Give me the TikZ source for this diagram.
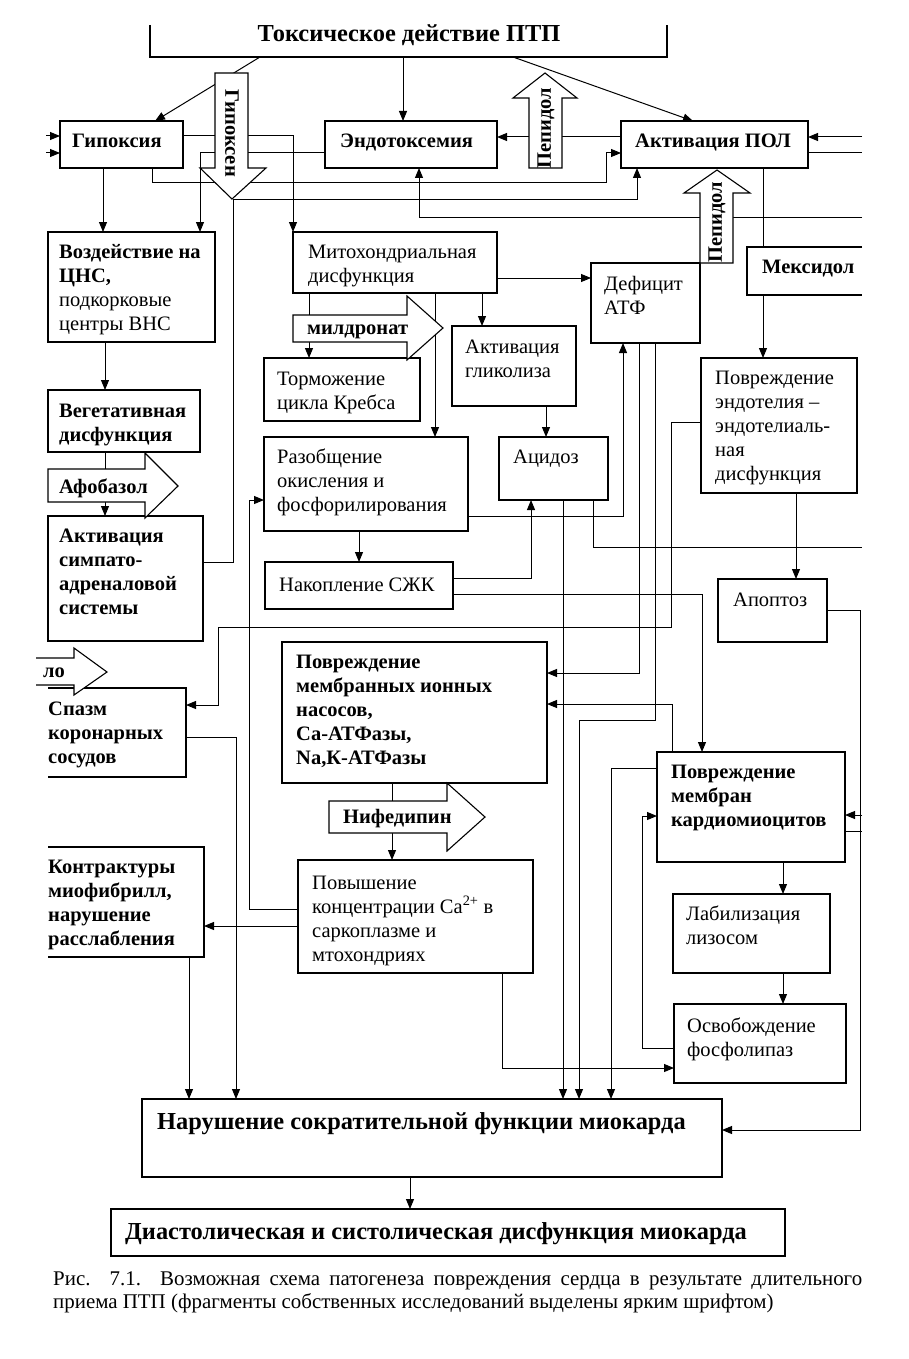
\documentclass[tikz,border=0pt]{standalone}
\usepackage{fontspec}
\setmainfont{Liberation Serif}
\usetikzlibrary{arrows.meta,fit}
\newcommand\bx[6][box]{\node[#1,fit={(#3,#4) (#5,#6)}] (#2) {};}
\newcommand\ml[1]{\begin{tabular}[t]{@{}l@{}}#1\end{tabular}}
\begin{document}
\begin{tikzpicture}[x=1pt,y=-1pt,
 box/.style={draw,line width=1.1pt,inner sep=0pt,outer sep=0pt},
 frame/.style={inner sep=0pt,outer sep=0pt},
 line/.style={line width=1pt},
 arr/.style={line width=1pt,-{Triangle[length=10pt,width=8pt]}},
 t/.style={inner sep=0pt,anchor=base west,font=\fontsize{20.5}{24}\selectfont},
 tb/.style={t,font=\fontsize{20.5}{24}\selectfont\bfseries},
 big/.style={t,font=\fontsize{24.4}{28}\selectfont\bfseries},
 blk/.style={draw,line width=1.1pt,fill=white,line join=miter},
]
\useasboundingbox (0,0) rectangle (909,1359);
% ---------- boxes ----------
\bx[frame]{top}{150}{25}{667}{57}
\draw[line width=1.1pt] (top.north west) -- (top.south west) -- (top.south east) -- (top.north east);
\bx{gip}{60}{121}{183}{168}
\bx{endo}{325}{121}{497}{168}
\bx{pol}{621}{121}{808}{168}
\bx{cns}{48}{232}{215}{342}
\bx{mito}{293}{232}{497}{293}
\bx{atp}{591}{263}{700}{343}
\bx[frame]{mex}{747}{247}{862}{295}
\draw[line width=1.1pt] (mex.north east) -- (mex.north west) -- (mex.south west) -- (mex.south east);
\bx{torm}{264}{358}{420}{421}
\bx{glik}{452}{326}{576}{406}
\bx{endo2}{701}{358}{857}{493}
\bx{veg}{48}{390}{200}{452}
\bx{raz}{264}{437}{468}{531}
\bx{acid}{499}{437}{608}{500}
\bx{symp}{48}{516}{203}{641}
\bx{szk}{265}{562}{453}{609}
\bx{apo}{718}{579}{827}{642}
\bx{ion}{282}{642}{547}{783}
\bx[frame]{spasm}{48}{688}{186}{777}
\draw[line width=1.1pt] (spasm.north west) -- (spasm.north east) -- (spasm.south east) -- (spasm.south west);
\bx{kard}{657}{752}{845}{862}
\bx[frame]{kon}{48}{847}{204}{957}
\draw[line width=1.1pt] (kon.north west) -- (kon.north east) -- (kon.south east) -- (kon.south west);
\bx{pov}{298}{860}{533}{973}
\bx{lab}{673}{894}{830}{973}
\bx{osv}{674}{1004}{846}{1083}
\bx{nar}{142}{1099}{722}{1177}
\bx{dia}{111}{1209}{785}{1256}
% ---------- free ends ----------
\coordinate (inA) at (46,136);
\coordinate (inB) at (46,153);
\coordinate (rP1) at (862,137);
\coordinate (rP2) at (862,153);
\coordinate (rE) at (862,217);
\coordinate (rA) at (862,547);
\coordinate (rK1) at (862,815);
\coordinate (rK2) at (862,831);
% ---------- connectors ----------
\draw[arr] (top.south -| 260,0) -- (gip.north -| 155,0);
\draw[arr] (top.south -| 403,0) -- (endo.north -| 403,0);
\draw[arr] (top.south -| 513,0) -- (pol.north -| 693,0);
\draw[arr] (inA) -- (gip.west |- inA);
\draw[arr] (inB) -- (gip.west |- inB);
\draw[arr] (gip.east |- 0,136) -| (mito.north -| 293,0);
\draw[arr] (endo.west |- 0,153) -| (cns.north -| 200,0);
\draw[arr] (pol.west |- 0,137) -- (endo.east |- 0,137);
\draw[arr] (gip.south -| 152,0) |- (606,183) |- (pol.west |- 0,153);
\draw[arr] (symp.east |- 0,562) -| (233,200) -| (pol.south -| 637,0);
\draw[arr] (rE) -| (endo.south -| 419,0);
\draw[arr] (rP1) -- (pol.east |- rP1);
\draw[line] (pol.east |- rP2) -- (rP2);
\draw[line] (pol.south -| 763,0) -- (mex.north -| 763,0);
\draw[arr] (mex.south -| 763,0) -- (endo2.north -| 763,0);
\draw[arr] (gip.south -| 103,0) -- (cns.north -| 103,0);
\draw[arr] (cns.south -| 105,0) -- (veg.north -| 105,0);
\draw[arr] (veg.south -| 105,0) -- (symp.north -| 105,0);
\draw[arr] (mito.east |- 0,278) -- (atp.west |- 0,278);
\draw[arr] (mito.south -| 309,0) -- (torm.north -| 309,0);
\draw[arr] (mito.south -| 435,0) -- (raz.north -| 435,0);
\draw[arr] (mito.south -| 482,0) -- (glik.north -| 482,0);
\draw[arr] (glik.south -| 546,0) -- (acid.north -| 546,0);
\draw[arr] (raz.east |- 0,516) -| (atp.south -| 623,0);
\draw[arr] (raz.south -| 359,0) -- (szk.north -| 359,0);
\draw[arr] (szk.east |- 0,578) -| (acid.south -| 531,0);
\draw[arr] (szk.east |- 0,594) -| (kard.north -| 702,0);
\draw[arr] (acid.south -| 563,0) -- (nar.north -| 563,0);
\draw[line] (acid.south -| 593,0) |- (rA);
\draw[arr] (atp.south -| 639,0) |- (ion.east |- 0,673);
\draw[arr] (atp.south -| 655,0) |- (579,720) -- (nar.north -| 579,0);
\draw[arr] (endo2.west |- 0,422) -| (671,627) -| (218,705) -- (spasm.east |- 0,705);
\draw[arr] (endo2.south -| 796,0) -- (apo.north -| 796,0);
\draw[arr] (apo.east |- 0,610) -| (860,1130) -- (nar.east |- 0,1130);
\draw[arr] (kard.north -| 672,0) |- (ion.east |- 0,704);
\draw[arr] (kard.west |- 0,768) -| (nar.north -| 611,0);
\draw[arr] (osv.west |- 0,1048) -| (642,816) -- (kard.west |- 0,816);
\draw[arr] (pov.south -| 502,0) |- (osv.west |- 0,1068);
\draw[arr] (pov.west |- 0,909) -| (249,500) -- (raz.west |- 0,500);
\draw[arr] (pov.west |- 0,926) -- (kon.east |- 0,926);
\draw[arr] (ion.south -| 392,0) -- (pov.north -| 392,0);
\draw[arr] (spasm.east |- 0,737) -| (nar.north -| 236,0);
\draw[arr] (kon.south -| 189,0) -- (nar.north -| 189,0);
\draw[arr] (nar.south -| 410,0) -- (dia.north -| 410,0);
\draw[arr] (rK1) -- (kard.east |- rK1);
\draw[line] (kard.east |- rK2) -- (rK2);
\draw[arr] (kard.south -| 783,0) -- (lab.north -| 783,0);
\draw[arr] (lab.south -| 783,0) -- (osv.north -| 783,0);
% ---------- block arrows ----------
\draw[blk] (215,73) -- (248,73) -- (248,168) -- (266,168) -- (232,199) -- (200,168) -- (215,168) -- cycle;
\draw[blk] (529,168) -- (529,98) -- (513,98) -- (545,73) -- (577,98) -- (562,98) -- (562,168) -- cycle;
\draw[blk] (700,263) -- (700,193) -- (684,193) -- (717,170) -- (750,193) -- (733,193) -- (733,263) -- cycle;
\draw[blk] (293,315) -- (407,315) -- (407,296) -- (443,328) -- (407,360) -- (407,342) -- (293,342) -- cycle;
\draw[blk] (48,469) -- (145,469) -- (145,453) -- (178,486) -- (145,518) -- (145,502) -- (48,502) -- cycle;
\draw[blk] (36,658) -- (74,658) -- (74,648) -- (107,672) -- (74,695) -- (74,685) -- (36,685);
\draw[blk] (329,801) -- (447,801) -- (447,783) -- (485,817) -- (447,851) -- (447,833) -- (329,833) -- cycle;
% ---------- texts ----------
\node[big,anchor=base] (top-t) at (409,42) {Токсическое действие ПТП};
\node[tb] (gip-t) at (72,148) {Гипоксия};
\node[tb] (endo-t) at (340,148) {Эндотоксемия};
\node[tb] (pol-t) at (635,148) {Активация ПОЛ};
\node[tb,anchor=center,rotate=-90] (gpx-t) at (232,133) {Гипоксен};
\node[tb,anchor=center,rotate=90] (pep1-t) at (546,128) {Пепидол};
\node[tb,anchor=center,rotate=90] (pep2-t) at (717,222) {Пепидол};
\node[t] (cns-t) at (59,258) {\ml{\textbf{Воздействие на}\\\textbf{ЦНС,}\\подкорковые\\центры ВНС}};
\node[t] (mito-t) at (308,258) {\ml{Митохондриальная\\дисфункция}};
\node[tb] (mex-t) at (762,273) {Мексидол};
\node[t] (atp-t) at (604,290) {\ml{Дефицит\\АТФ}};
\node[tb] (mild-t) at (307,334) {милдронат};
\node[t] (glik-t) at (465,353) {\ml{Активация\\гликолиза}};
\node[t] (torm-t) at (277,385) {\ml{Торможение\\цикла Кребса}};
\node[t] (endo2-t) at (715,384) {\ml{Повреждение\\эндотелия –\\эндотелиаль-\\ная\\дисфункция}};
\node[tb] (veg-t) at (59,417) {\ml{Вегетативная\\дисфункция}};
\node[t] (raz-t) at (277,463) {\ml{Разобщение\\окисления и\\фосфорилирования}};
\node[t] (acid-t) at (513,463) {Ацидоз};
\node[tb] (afob-t) at (59,493) {Афобазол};
\node[tb] (symp-t) at (59,542) {\ml{Активация\\симпато-\\адреналовой\\системы}};
\node[t] (szk-t) at (279,591) {Накопление СЖК};
\node[t] (apo-t) at (733,606) {Апоптоз};
\node[tb] (lo-t) at (43,677) {ло};
\node[tb] (spasm-t) at (48,715) {\ml{Спазм\\коронарных\\сосудов}};
\node[tb] (ion-t) at (296,668) {\ml{Повреждение\\мембранных ионных\\насосов,\\Са-АТФазы,\\Na,К-АТФазы}};
\node[tb] (kard-t) at (671,778) {\ml{Повреждение\\мембран\\кардиомиоцитов}};
\node[tb] (nif-t) at (343,823) {Нифедипин};
\node[tb] (kon-t) at (48,873) {\ml{Контрактуры\\миофибрилл,\\нарушение\\расслабления}};
\node[t] (pov-t) at (312,889) {\ml{Повышение\\концентрации Ca\textsuperscript{2+} в\\саркоплазме и\\мтохондриях}};
\node[t] (lab-t) at (686,920) {\ml{Лабилизация\\лизосом}};
\node[t] (osv-t) at (687,1032) {\ml{Освобождение\\фосфолипаз}};
\node[big] (nar-t) at (157,1129) {Нарушение сократительной функции миокарда};
\node[big,anchor=base] (dia-t) at (436,1239) {Диастолическая и систолическая дисфункция миокарда};
\node[t,font=\fontsize{20.9}{23}\selectfont] (cap-t) at (53,1285) {\ml{\makebox[809pt][s]{Рис. 7.1. Возможная схема патогенеза повреждения сердца в результате длительного}\\приема ПТП (фрагменты собственных исследований выделены ярким шрифтом)}};
\end{tikzpicture}
\end{document}
